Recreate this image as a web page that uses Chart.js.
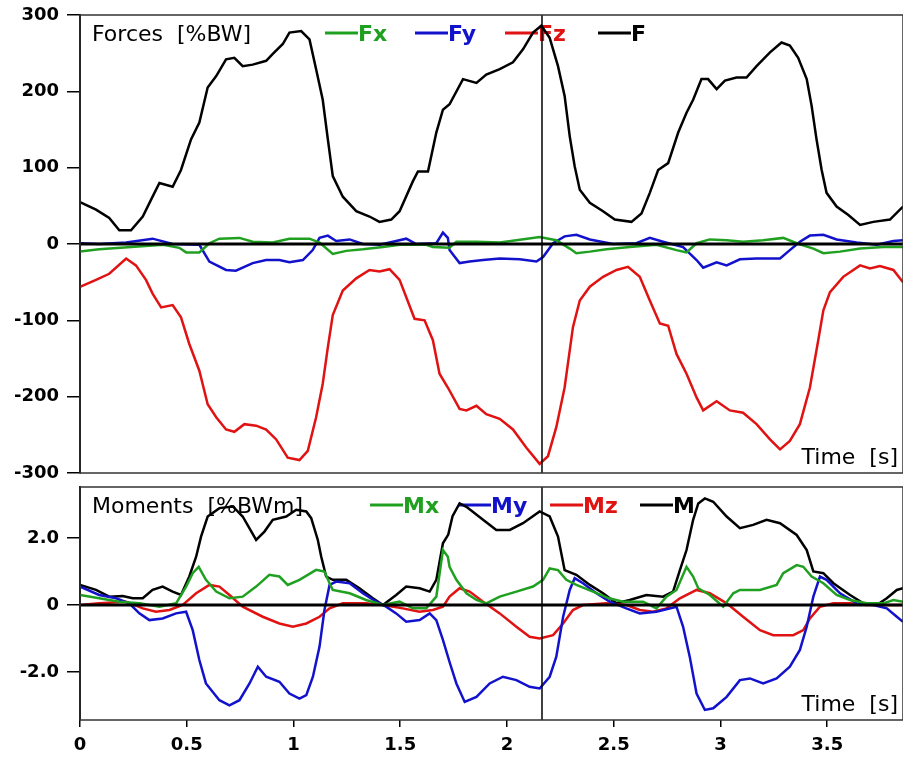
<!DOCTYPE html>
<html>
<head>
<meta charset="utf-8">
<script src="https://cdn.jsdelivr.net/npm/chart.js@4/dist/chart.umd.min.js"></script>
<style>
    body { margin: 0; background: #fff; }
    canvas { position: absolute; left: 0; }
    #forces { top: 0; }
    #moments { top: 480px; }
</style>
</head>
<body>
<canvas id="forces" width="903" height="484"></canvas>
<canvas id="moments" width="903" height="277"></canvas>
<script>
// time axis [s] and cursor position
const timeMax = 3.855;
const cursorTime = 2.164;
const xTicks = [0, 0.5, 1, 1.5, 2, 2.5, 3, 3.5];
const xTickLabels = ['0', '0.5', '1', '1.5', '2', '2.5', '3', '3.5'];

// forces panel ticks [%BW]
const forceTicks = [300, 200, 100, 0, -100, -200, -300];
const forceTickLabels = ['300', '200', '100', '0', '-100', '-200', '-300'];
// moments panel ticks [%BWm]
const momentTicks = [2, 0, -2];
const momentTickLabels = ['2.0', '0', '-2.0'];

// forces, [time, value]
const fx = [[0,-10],[0.09,-7],[0.24,-4],[0.39,-1],[0.465,-5],[0.497,-11],[0.559,-11],[0.606,1],[0.653,7],[0.747,8],[0.809,3],[0.903,2],[0.981,7],[1.075,7],[1.122,2],[1.184,-13],[1.247,-9],[1.325,-7],[1.419,-4],[1.497,-1],[1.622,-1],[1.653,-4],[1.73,-5],[1.763,3],[1.857,3],[1.966,2],[2.044,5],[2.153,9],[2.231,5],[2.294,-6],[2.325,-12],[2.388,-10],[2.466,-7],[2.575,-4],[2.7,-1],[2.794,-8],[2.841,-11],[2.888,1],[2.95,6],[3.029,5],[3.106,3],[3.2,5],[3.294,8],[3.357,1],[3.435,-6],[3.482,-12],[3.56,-10],[3.654,-6],[3.763,-4],[3.855,-4]];
const fy = [[0,1],[0.09,0],[0.216,2],[0.34,7],[0.434,0],[0.559,-1],[0.606,-23],[0.684,-34],[0.73,-35],[0.809,-25],[0.872,-21],[0.934,-21],[0.981,-24],[1.044,-21],[1.09,-8],[1.122,8],[1.161,11],[1.2,4],[1.263,6],[1.325,0],[1.403,-1],[1.481,4],[1.528,7],[1.575,0],[1.669,1],[1.7,15],[1.723,8],[1.731,-8],[1.778,-25],[1.825,-23],[1.888,-21],[1.966,-19],[2.06,-20],[2.138,-23],[2.169,-17],[2.216,1],[2.27,10],[2.325,12],[2.388,6],[2.497,0],[2.606,1],[2.669,8],[2.731,3],[2.825,-4],[2.888,-21],[2.919,-31],[2.982,-24],[3.029,-28],[3.091,-20],[3.169,-19],[3.279,-19],[3.325,-8],[3.372,3],[3.419,11],[3.482,12],[3.544,6],[3.638,2],[3.732,-1],[3.763,1],[3.81,4],[3.855,5]];
const fz = [[0,-56],[0.075,-47],[0.137,-39],[0.216,-19],[0.262,-28],[0.309,-47],[0.34,-65],[0.38,-83],[0.434,-80],[0.473,-96],[0.512,-131],[0.559,-166],[0.598,-210],[0.638,-227],[0.684,-243],[0.723,-246],[0.77,-236],[0.825,-238],[0.872,-243],[0.919,-256],[0.973,-280],[1.028,-283],[1.067,-271],[1.106,-227],[1.137,-183],[1.161,-135],[1.184,-93],[1.231,-61],[1.294,-45],[1.356,-34],[1.403,-36],[1.45,-33],[1.497,-47],[1.567,-98],[1.614,-100],[1.653,-126],[1.684,-170],[1.723,-188],[1.778,-216],[1.81,-218],[1.857,-212],[1.903,-223],[1.966,-229],[2.028,-243],[2.091,-267],[2.153,-288],[2.192,-278],[2.231,-240],[2.27,-188],[2.309,-109],[2.341,-74],[2.388,-56],[2.45,-43],[2.513,-34],[2.567,-30],[2.622,-43],[2.669,-74],[2.716,-104],[2.755,-107],[2.794,-144],[2.841,-170],[2.888,-201],[2.919,-218],[2.982,-206],[3.044,-218],[3.106,-221],[3.169,-236],[3.232,-256],[3.279,-269],[3.325,-258],[3.372,-236],[3.419,-188],[3.458,-126],[3.482,-87],[3.513,-63],[3.575,-43],[3.654,-28],[3.7,-32],[3.747,-29],[3.81,-34],[3.855,-50]];
const fRes = [[0,55],[0.075,45],[0.137,34],[0.184,18],[0.239,18],[0.294,36],[0.34,62],[0.372,80],[0.434,75],[0.473,97],[0.52,137],[0.559,159],[0.598,205],[0.638,220],[0.684,242],[0.723,244],[0.762,233],[0.809,235],[0.872,240],[0.903,249],[0.95,262],[0.981,277],[1.036,279],[1.075,268],[1.106,229],[1.137,189],[1.161,137],[1.184,89],[1.231,62],[1.294,43],[1.356,36],[1.403,29],[1.458,32],[1.497,43],[1.559,82],[1.583,95],[1.63,95],[1.669,146],[1.7,176],[1.731,183],[1.794,216],[1.857,211],[1.903,222],[1.966,229],[2.028,238],[2.075,255],[2.122,277],[2.161,286],[2.2,270],[2.239,233],[2.27,194],[2.294,141],[2.317,102],[2.341,71],[2.388,54],[2.45,43],[2.505,32],[2.583,29],[2.63,40],[2.669,67],[2.708,97],[2.755,106],[2.802,146],[2.841,172],[2.872,189],[2.911,216],[2.942,216],[2.982,203],[3.021,214],[3.075,218],[3.122,218],[3.169,233],[3.232,251],[3.286,264],[3.325,260],[3.364,244],[3.404,216],[3.427,181],[3.45,137],[3.474,97],[3.497,67],[3.544,49],[3.599,38],[3.654,25],[3.716,29],[3.794,32],[3.855,49]];

// moments, [time, value]
const mx = [[0,0.3],[0.09,0.2],[0.184,0.1],[0.28,0.05],[0.372,-0.05],[0.45,0.05],[0.497,0.55],[0.528,0.95],[0.556,1.14],[0.59,0.75],[0.638,0.4],[0.7,0.2],[0.762,0.25],[0.825,0.55],[0.887,0.9],[0.934,0.85],[0.973,0.6],[1.028,0.75],[1.106,1.05],[1.145,1.0],[1.169,0.65],[1.184,0.45],[1.263,0.35],[1.34,0.15],[1.419,0],[1.497,0.1],[1.559,-0.1],[1.622,-0.1],[1.669,0.25],[1.7,1.64],[1.723,1.44],[1.731,1.14],[1.763,0.75],[1.81,0.35],[1.857,0.15],[1.903,0.05],[1.966,0.25],[2.044,0.4],[2.122,0.55],[2.169,0.75],[2.2,1.09],[2.239,1.04],[2.278,0.75],[2.325,0.6],[2.403,0.4],[2.478,0.2],[2.544,0.1],[2.638,0.1],[2.7,-0.1],[2.747,0.25],[2.794,0.45],[2.841,1.14],[2.872,0.85],[2.896,0.5],[2.95,0.3],[3.013,-0.05],[3.06,0.35],[3.091,0.45],[3.185,0.45],[3.263,0.6],[3.294,0.95],[3.357,1.19],[3.388,1.14],[3.427,0.85],[3.482,0.65],[3.544,0.3],[3.607,0.15],[3.685,0.05],[3.763,0.05],[3.81,0.15],[3.855,0.1]];
const my = [[0,0.55],[0.09,0.3],[0.169,0.2],[0.231,0.05],[0.278,-0.25],[0.325,-0.45],[0.387,-0.4],[0.45,-0.25],[0.497,-0.2],[0.528,-0.75],[0.559,-1.64],[0.59,-2.34],[0.653,-2.84],[0.7,-2.99],[0.747,-2.84],[0.794,-2.34],[0.833,-1.84],[0.872,-2.14],[0.934,-2.29],[0.981,-2.64],[1.028,-2.79],[1.06,-2.69],[1.091,-2.14],[1.122,-1.24],[1.145,-0.15],[1.169,0.6],[1.2,0.7],[1.263,0.65],[1.325,0.35],[1.387,0.1],[1.434,-0.05],[1.481,-0.25],[1.528,-0.5],[1.591,-0.45],[1.638,-0.25],[1.669,-0.45],[1.7,-1.04],[1.731,-1.7],[1.763,-2.34],[1.802,-2.89],[1.857,-2.74],[1.919,-2.34],[1.981,-2.14],[2.044,-2.24],[2.106,-2.44],[2.153,-2.49],[2.2,-2.14],[2.231,-1.54],[2.263,-0.35],[2.294,0.45],[2.317,0.8],[2.356,0.65],[2.419,0.35],[2.481,0.1],[2.559,-0.1],[2.622,-0.25],[2.7,-0.2],[2.794,-0.05],[2.825,-0.65],[2.856,-1.54],[2.888,-2.64],[2.927,-3.13],[2.966,-3.08],[3.029,-2.74],[3.091,-2.24],[3.138,-2.19],[3.2,-2.34],[3.263,-2.19],[3.325,-1.84],[3.372,-1.34],[3.404,-0.65],[3.435,0.25],[3.466,0.85],[3.497,0.75],[3.56,0.35],[3.638,0.05],[3.716,0],[3.779,-0.1],[3.826,-0.35],[3.855,-0.5]];
const mz = [[0,0],[0.09,0.05],[0.216,0.1],[0.294,-0.1],[0.356,-0.2],[0.419,-0.15],[0.481,0],[0.544,0.35],[0.606,0.6],[0.653,0.55],[0.7,0.3],[0.762,-0.05],[0.856,-0.35],[0.934,-0.55],[0.997,-0.65],[1.06,-0.55],[1.122,-0.35],[1.169,-0.1],[1.231,0.05],[1.34,0.05],[1.419,0],[1.512,-0.1],[1.59,-0.2],[1.653,-0.15],[1.7,-0.05],[1.731,0.25],[1.778,0.5],[1.825,0.4],[1.888,0.1],[1.966,-0.25],[2.044,-0.65],[2.106,-0.95],[2.153,-1.0],[2.216,-0.9],[2.263,-0.55],[2.309,-0.15],[2.356,0],[2.466,0.05],[2.56,0],[2.622,-0.15],[2.684,-0.2],[2.747,-0.1],[2.81,0.2],[2.888,0.45],[2.95,0.35],[3.029,0.05],[3.106,-0.35],[3.185,-0.75],[3.247,-0.9],[3.341,-0.9],[3.388,-0.75],[3.419,-0.4],[3.466,-0.05],[3.529,0.05],[3.607,0.05],[3.685,0],[3.855,0]];
const mRes = [[0,0.6],[0.075,0.45],[0.137,0.25],[0.2,0.27],[0.247,0.2],[0.294,0.2],[0.34,0.45],[0.387,0.55],[0.434,0.4],[0.473,0.3],[0.512,0.85],[0.544,1.44],[0.567,2.04],[0.598,2.64],[0.653,2.89],[0.716,2.94],[0.762,2.64],[0.825,1.94],[0.864,2.19],[0.903,2.54],[0.966,2.64],[1.013,2.84],[1.06,2.79],[1.083,2.59],[1.114,1.94],[1.13,1.44],[1.153,0.85],[1.184,0.75],[1.247,0.75],[1.309,0.5],[1.372,0.2],[1.419,0],[1.481,0.3],[1.528,0.55],[1.591,0.5],[1.638,0.4],[1.669,0.75],[1.7,1.84],[1.725,2.1],[1.745,2.65],[1.778,3.03],[1.81,2.93],[1.888,2.54],[1.95,2.24],[2.013,2.24],[2.075,2.44],[2.153,2.79],[2.2,2.64],[2.239,2.04],[2.27,1.04],[2.325,0.9],[2.388,0.6],[2.45,0.35],[2.513,0.05],[2.575,0.15],[2.653,0.3],[2.731,0.25],[2.778,0.4],[2.81,1.04],[2.841,1.64],[2.872,2.54],[2.896,3.03],[2.927,3.18],[2.966,3.08],[3.029,2.64],[3.091,2.29],[3.153,2.39],[3.216,2.54],[3.279,2.44],[3.357,2.09],[3.404,1.64],[3.435,1.0],[3.482,0.95],[3.529,0.65],[3.607,0.3],[3.669,0.05],[3.732,0],[3.779,0.2],[3.826,0.45],[3.855,0.5]];

const green = '#20a020';
const blue = '#1212cc';
const red = '#e01212';
const black = '#000000';

const toXY = pts => pts.map(p => ({x: p[0], y: p[1]}));

function series(label, pts, color) {
    return {
        label: label,
        data: toXY(pts),
        borderColor: color,
        borderWidth: 2.5,
        pointRadius: 0,
        tension: 0,
        fill: false
    };
}

// frame, title, inline legend, zero line, cursor, "Time [s]"
const panelDecor = {
    id: 'panelDecor',
    beforeDatasetsDraw(chart, args, opts) {
        const ctx = chart.ctx;
        const a = chart.chartArea;
        ctx.save();
        ctx.textBaseline = 'alphabetic';
        ctx.textAlign = 'left';
        ctx.fillStyle = black;
        ctx.font = '22px "DejaVu Sans"';
        ctx.fillText(opts.title, a.left + 12, a.top + 26);
        ctx.textAlign = 'right';
        ctx.fillText('Time  [s]', a.right - 5, a.bottom - 9);
        // legend items
        ctx.textAlign = 'left';
        ctx.font = 'bold 22px "DejaVu Sans"';
        opts.items.forEach(it => {
            ctx.strokeStyle = it.color;
            ctx.lineWidth = 3;
            ctx.beginPath();
            ctx.moveTo(it.x, a.top + 18);
            ctx.lineTo(it.x + 33, a.top + 18);
            ctx.stroke();
            ctx.fillStyle = it.color;
            ctx.fillText(it.label, it.x + 33, a.top + 26);
        });
        ctx.restore();
    },
    afterDatasetsDraw(chart) {
        const ctx = chart.ctx;
        const a = chart.chartArea;
        const y0 = chart.scales.y.getPixelForValue(0);
        const xc = chart.scales.x.getPixelForValue(cursorTime);
        ctx.save();
        ctx.strokeStyle = black;
        ctx.lineWidth = 3;
        ctx.beginPath();
        ctx.moveTo(a.left, y0);
        ctx.lineTo(a.right, y0);
        ctx.stroke();
        ctx.lineWidth = 1.5;
        ctx.beginPath();
        ctx.moveTo(xc, a.top);
        ctx.lineTo(xc, a.bottom);
        ctx.stroke();
        ctx.strokeStyle = '#333';
        ctx.strokeRect(a.left, a.top, a.right - a.left, a.bottom - a.top);
        ctx.restore();
    }
};

const tickFont = {family: 'DejaVu Sans', size: 18, weight: 'bold'};

function makePanel(canvasId, datasets, yMin, yMax, yTicks, yLabels, showX, pad, decor) {
    return new Chart(document.getElementById(canvasId), {
        type: 'line',
        data: {datasets: datasets},
        plugins: [panelDecor],
        options: {
            responsive: false,
            animation: false,
            layout: {padding: pad},
            plugins: {
                legend: {display: false},
                tooltip: {enabled: false},
                panelDecor: decor
            },
            scales: {
                x: {
                    type: 'linear',
                    min: 0,
                    max: timeMax,
                    display: showX,
                    afterBuildTicks: s => { s.ticks = xTicks.map(v => ({value: v})); },
                    afterFit: s => {
                        if (showX) s.height = 37;
                        s.paddingLeft = 0;
                        s.paddingRight = 0;
                    },
                    grid: {drawOnChartArea: false, tickLength: 7, color: black, lineWidth: 1.5},
                    border: {display: false},
                    ticks: {
                        font: tickFont,
                        color: black,
                        padding: 8,
                        maxRotation: 0,
                        callback: (v, i) => xTickLabels[i]
                    }
                },
                y: {
                    min: yMin,
                    max: yMax,
                    afterBuildTicks: s => { s.ticks = yTicks.map(v => ({value: v})); },
                    afterFit: s => {
                        s.width = 80;
                        s.paddingTop = 0;
                        s.paddingBottom = 0;
                    },
                    grid: {drawOnChartArea: false, tickLength: 13, color: black, lineWidth: 1.5},
                    border: {display: true, color: black, width: 2},
                    ticks: {
                        font: tickFont,
                        color: black,
                        padding: 8,
                        callback: (v, i) => yLabels[i]
                    }
                }
            }
        }
    });
}

// Forces panel
makePanel('forces', [
    series('Fx', fx, green),
    series('Fy', fy, blue),
    series('Fz', fz, red),
    series('F', fRes, black)
], -300, 300, forceTicks, forceTickLabels, false, {top: 15, bottom: 11, left: 0, right: 0}, {
    title: 'Forces  [%BW]',
    items: [
        {label: 'Fx', color: green, x: 325},
        {label: 'Fy', color: blue, x: 415},
        {label: 'Fz', color: red, x: 505},
        {label: 'F', color: black, x: 598}
    ]
});

// Moments panel
makePanel('moments', [
    series('Mx', mx, green),
    series('My', my, blue),
    series('Mz', mz, red),
    series('M', mRes, black)
], -3.43, 3.52, momentTicks, momentTickLabels, true, {top: 7, bottom: 0, left: 0, right: 0}, {
    title: 'Moments  [%BWm]',
    items: [
        {label: 'Mx', color: green, x: 370},
        {label: 'My', color: blue, x: 458},
        {label: 'Mz', color: red, x: 550},
        {label: 'M', color: black, x: 640}
    ]
});
</script>
</body>
</html>
